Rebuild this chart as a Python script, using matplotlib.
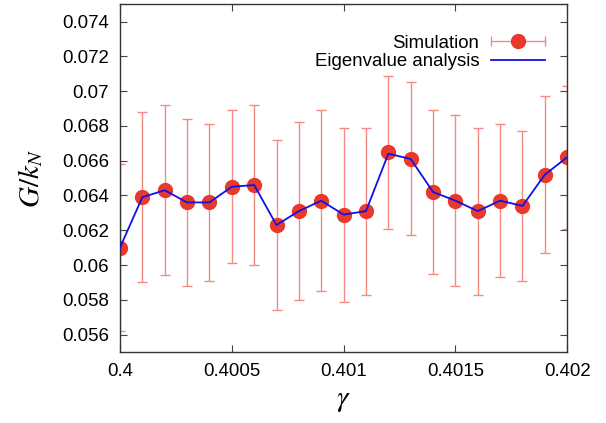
import matplotlib
matplotlib.use('Agg')
import matplotlib.pyplot as plt
from matplotlib.lines import Line2D
from matplotlib.legend_handler import HandlerBase
from matplotlib.container import ErrorbarContainer
from matplotlib.ticker import FuncFormatter, MultipleLocator

plt.rcParams['font.family'] = ['Liberation Sans', 'DejaVu Sans']
plt.rcParams['mathtext.fontset'] = 'stix'

# data
gamma = [0.4000, 0.4001, 0.4002, 0.4003, 0.4004, 0.4005, 0.4006, 0.4007,
         0.4008, 0.4009, 0.4010, 0.4011, 0.4012, 0.4013, 0.4014, 0.4015,
         0.4016, 0.4017, 0.4018, 0.4019, 0.4020]
sim = [0.0610, 0.0639, 0.0643, 0.0636, 0.0636, 0.0645, 0.0646, 0.0623,
       0.0631, 0.0637, 0.0629, 0.0631, 0.0665, 0.0661, 0.0642, 0.0637,
       0.0631, 0.0637, 0.0634, 0.0652, 0.0662]
sim_err = [0.0048, 0.0049, 0.0049, 0.0048, 0.0045, 0.0044, 0.0046, 0.0049,
           0.0051, 0.0052, 0.0050, 0.0048, 0.0044, 0.0044, 0.0047, 0.0049,
           0.0048, 0.0044, 0.0043, 0.0045, 0.0041]
eig = [0.0610, 0.0639, 0.0643, 0.0636, 0.0636, 0.0645, 0.0646, 0.0623,
       0.0631, 0.0637, 0.0629, 0.0631, 0.0664, 0.0661, 0.0642, 0.0637,
       0.0631, 0.0637, 0.0634, 0.0652, 0.0662]

err_color = '#f48a80'
dot_color = '#e8392b'
line_color = '#1010e8'


class HandlerXErr(HandlerBase):
    # gnuplot style key: horizontal error bar with the point in the middle
    def create_artists(self, legend, orig_handle, xdescent, ydescent,
                       width, height, fontsize, trans):
        y = height / 2 - ydescent
        x0, x1 = -xdescent, width - xdescent
        bar = Line2D([x0, x1], [y, y], color=err_color, lw=1)
        caps = Line2D([x0, x1], [y, y], ls='none', marker='|', ms=7,
                      mew=1, color=err_color)
        dot = Line2D([(x0 + x1) / 2], [y], ls='none', marker='o', ms=10,
                     color=dot_color)
        for a in (bar, caps, dot):
            a.set_transform(trans)
        return [bar, caps, dot]


fig = plt.figure(figsize=(6.06, 4.23), dpi=100)
ax = fig.add_axes([0.198, 0.168, 0.738, 0.822])

eb = ax.errorbar(gamma, sim, yerr=sim_err, fmt='o', ms=10, color=dot_color,
                 ecolor=err_color, elinewidth=1, capsize=3.5, capthick=1,
                 zorder=2)
ln, = ax.plot(gamma, eig, color=line_color, lw=1.3, zorder=3)

ax.set_xlim(0.4, 0.402)
ax.set_ylim(0.055, 0.075)
ax.xaxis.set_major_locator(MultipleLocator(0.0005))
ax.yaxis.set_major_locator(MultipleLocator(0.002))
fmt = FuncFormatter(lambda v, p: '%g' % round(v, 6))
ax.xaxis.set_major_formatter(fmt)
ax.yaxis.set_major_formatter(fmt)
ax.tick_params(direction='in', length=5, width=0.8, top=True, right=True,
               labelsize=13.4, color='#444444', pad=8)
for s in ax.spines.values():
    s.set_linewidth(1.0)
    s.set_color('#333333')

ax.set_xlabel(r'$\gamma$', fontsize=21, labelpad=4)
ax.set_ylabel(r'$G/k_N$', fontsize=21, labelpad=12)

ax.legend([eb, ln], ['Simulation', 'Eigenvalue analysis'],
          handler_map={ErrorbarContainer: HandlerXErr()},
          loc='upper right', bbox_to_anchor=(0.951, 0.912),
          borderpad=0, borderaxespad=0, frameon=False, markerfirst=False,
          handlelength=2.9, handletextpad=0.65, labelspacing=0.08,
          fontsize=13.4)

plt.savefig('out.png', dpi=100)
